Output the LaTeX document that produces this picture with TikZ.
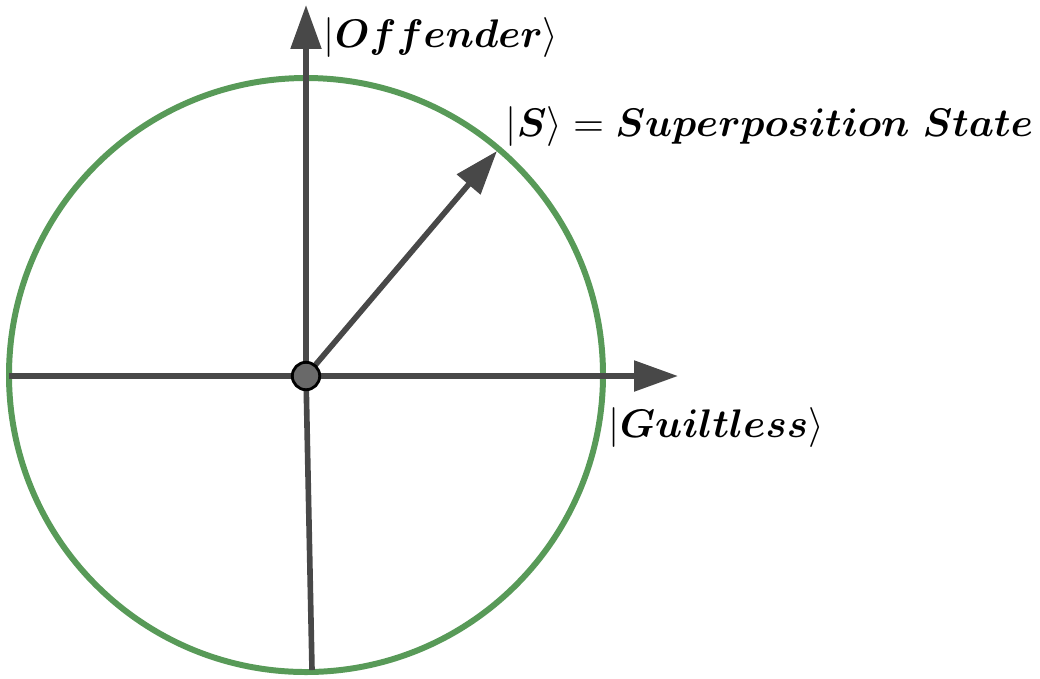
\RequirePackage{fix-cm}
\documentclass[tikz,border=0pt]{standalone}
\usepackage{amsmath}
\usepackage{amssymb}
\usetikzlibrary{arrows.meta}

\definecolor{ringgreen}{RGB}{88,154,88}
\definecolor{axisgray}{RGB}{72,72,72}
\definecolor{dotgray}{RGB}{105,105,105}

\begin{document}
\begin{tikzpicture}[
  x=0.01cm, y=-0.01cm,
  axis/.style = {draw=axisgray, line width=1.6pt},
  arr/.style  = {axis, -{Triangle[length=12.5pt, width=8.5pt]}},
  lbl/.style  = {anchor=west, inner sep=0pt, font=\fontsize{11.35}{13.5}\selectfont}
]
  \useasboundingbox (0,0) rectangle (1040,678);

  % state circle
  \draw[ringgreen, line width=1.7pt] (306,375) circle (297);

  % axis end points
  \coordinate (O)   at (306,376);
  \coordinate (top) at (306,5);
  \coordinate (rgt) at (678,376);
  \coordinate (lft) at (9,376);
  \coordinate (bot) at (312,670);
  \coordinate (sup) at (497,151);

  % axes
  \draw[axis] (O) -- (lft);
  \draw[axis] (O) -- (bot);
  \draw[arr]  (O) -- (top);
  \draw[arr]  (O) -- (rgt);
  \draw[arr]  (O) -- (sup);

  % origin
  \node[circle, draw=black, fill=dotgray, line width=0.8pt,
        minimum size=7.8pt, inner sep=0pt] (orig) at (O) {};

  % labels
  \node[lbl] (off) at (323,38)  {$|\boldsymbol{Offender}\rangle$};
  \node[lbl] (sst) at (505,127) {$|\boldsymbol{S}\rangle = \boldsymbol{Superposition\ State}$};
  \node[lbl] (gui) at (608,428) {$|\boldsymbol{Guiltless}\rangle$};
\end{tikzpicture}
\end{document}
